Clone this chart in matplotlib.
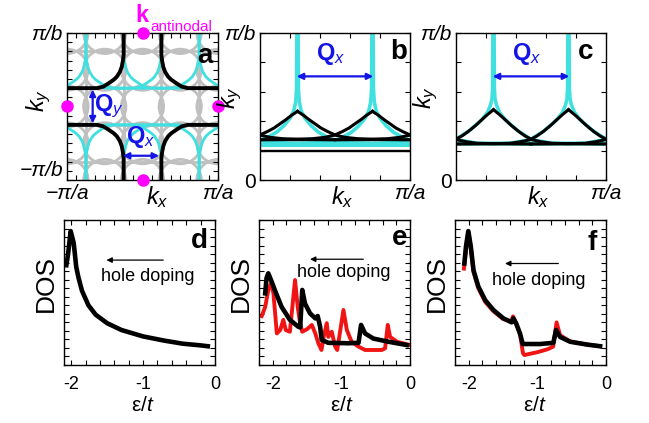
import matplotlib
matplotlib.use("Agg")
import matplotlib.pyplot as plt
import numpy as np
from matplotlib.patches import Circle
from matplotlib.ticker import MultipleLocator

plt.rcParams["font.family"] = ["Liberation Sans", "DejaVu Sans"]
plt.rcParams["mathtext.fontset"] = "custom"
plt.rcParams["mathtext.rm"] = "Liberation Sans"
plt.rcParams["mathtext.it"] = "Liberation Sans:italic"
plt.rcParams["mathtext.bf"] = "Liberation Sans:bold"
plt.rcParams["axes.unicode_minus"] = False

cyan = "#40e0e0"
gray = "#c0c0c0"
magenta = "#ff00ff"
blue = "#1414e6"
red = "#f01414"

# panel a, units of pi/a and pi/b: upper-left branch of the black contour
fs_x = np.array([-1.0, -0.6, -0.52, -0.45, -0.38, -0.34, -0.3, -0.275, -0.26, -0.25, -0.25])
fs_y = np.array([0.25, 0.25, 0.27, 0.315, 0.365, 0.405, 0.47, 0.54, 0.62, 0.7, 1.0])
cyan_shifts = [-1.0, -0.5, 0.5, 1.0]       # copies shifted by multiples of Qx
grid_pos = [-0.75, -0.25, 0.25, 0.75]
circle_pos = [-1.0, -0.5, 0.0, 0.5, 1.0]
circle_r = 0.28
dot_x = [0, 0, -1, 1]
dot_y = [1, -1, 0, 0]

# panels b, c: contour height vs distance from each cusp
cusp_x = [-0.25, 0.25, 0.75, 1.25]
b_black_d = np.array([0, 0.04, 0.078, 0.12, 0.156, 0.2, 0.256, 0.32, 0.4, 0.5, 0.75])
b_black_y = np.array([0.467, 0.44, 0.41, 0.38, 0.354, 0.33, 0.304, 0.29, 0.281, 0.277, 0.274])
b_cyan_d = np.array([0.004, 0.006, 0.012, 0.025, 0.05, 0.09, 0.14, 0.2, 0.25, 0.35, 0.5, 0.75])
b_cyan_y = np.array([1.0, 0.62, 0.53, 0.47, 0.42, 0.37, 0.325, 0.29, 0.27, 0.255, 0.248, 0.245])
b_black_h = [0.274, 0.197]
b_cyan_h = [0.238]

c_black_d = np.array([0, 0.04, 0.078, 0.12, 0.167, 0.21, 0.256, 0.32, 0.39, 0.5, 0.75])
c_black_y = np.array([0.478, 0.445, 0.41, 0.37, 0.331, 0.3, 0.274, 0.26, 0.25, 0.247, 0.245])
c_cyan_d = np.array([0.004, 0.006, 0.01, 0.02, 0.04, 0.078, 0.167, 0.256, 0.39, 0.75])
c_cyan_y = np.array([1.0, 0.62, 0.55, 0.51, 0.46, 0.41, 0.331, 0.274, 0.25, 0.245])
c_black_h = [0.245]

# DOS curves (arb. units)
d_e = [-2.067, -2.045, -2.007, -1.965, -1.93, -1.90, -1.85, -1.76, -1.66, -1.5, -1.3, -1.0, -0.7, -0.45, -0.2, -0.10]
d_dos = [11.7, 12.9, 15.7, 14.3, 11.5, 10.3, 8.7, 7.0, 5.9, 4.9, 4.1, 3.35, 2.85, 2.5, 2.3, 2.2]

e_black_e = [-2.11, -2.09, -2.065, -2.015, -1.97, -1.87, -1.75, -1.63, -1.60, -1.57, -1.53, -1.457, -1.38,
             -1.345, -1.31, -1.286, -1.19, -0.90, -0.75, -0.713, -0.655, -0.534, -0.315, -0.047]
e_black_dos = [8.4, 10.2, 10.75, 9.77, 8.8, 6.8, 5.3, 4.5, 4.4, 8.8, 7.2, 6.06, 5.47,
               5.74, 4.5, 2.93, 2.6, 2.55, 2.6, 4.7, 3.7, 3.1, 2.73, 2.34]
e_red_e = [-2.16, -2.11, -2.064, -2.025, -1.99, -1.94, -1.89, -1.846, -1.81, -1.75, -1.714, -1.675, -1.636,
           -1.60, -1.57, -1.50, -1.43, -1.38, -1.335, -1.29, -1.257, -1.213, -1.19, -1.14, -1.09, -1.06,
           -0.97, -0.92, -0.85, -0.75, -0.655, -0.41, -0.363, -0.324, -0.29, -0.19, 0.0]
e_red_dos = [5.74, 6.8, 8.8, 9.57, 8.4, 3.7, 4.1, 5.3, 4.1, 3.9, 6.8, 9.96, 6.8,
             4.9, 3.9, 4.2, 4.7, 3.7, 2.54, 1.76, 3.3, 4.9, 3.3, 3.9, 2.15, 1.76,
             6.45, 4.1, 2.73, 2.15, 1.76, 1.76, 1.95, 4.7, 3.3, 2.73, 2.34]

f_black_e = [-2.064, -2.04, -2.006, -1.97, -1.93, -1.86, -1.76, -1.64, -1.496, -1.374, -1.35, -1.31, -1.253,
             -1.213, -0.96, -0.767, -0.728, -0.67, -0.524, -0.28, -0.086]
f_black_dos = [11.9, 13.9, 15.7, 13.9, 11.1, 9.2, 7.6, 6.45, 5.47, 5.0, 5.47, 4.9, 3.7,
               2.46, 2.46, 2.6, 4.1, 3.3, 2.73, 2.4, 2.2]
f_red_e = [-2.07, -2.04, -2.006, -1.97, -1.93, -1.86, -1.76, -1.64, -1.50, -1.38, -1.355, -1.31, -1.25,
           -1.21, -1.19, -1.0, -0.85, -0.77, -0.72, -0.67, -0.52, -0.28, -0.09]
f_red_dos = [11.3, 13.5, 15.6, 13.7, 10.9, 9.0, 7.4, 6.3, 5.4, 5.1, 5.7, 4.9, 3.5,
             1.4, 1.17, 1.5, 1.85, 2.15, 5.0, 3.5, 2.75, 2.4, 2.2]

W, H = 649, 423
fig = plt.figure(figsize=(W / 100, H / 100), dpi=100)


def box(left, top, w, h):
    return fig.add_axes([left / W, 1 - (top + h) / H, w / W, h / H])


def style(ax, pad=3, size=12):
    ax.tick_params(which="both", direction="in", top=True, right=True,
                   length=3.5, width=0.8, labelsize=size, pad=pad)
    for s in ax.spines.values():
        s.set_linewidth(1.0)


axa = box(67, 33, 151, 147)
axb = box(260, 33, 150, 147)
axc = box(456, 33, 150, 147)
axd = box(64, 220, 151, 145)
axe = box(259, 220, 151, 145)
axf = box(455, 220, 151, 145)

# ---------------- panel a
for p in grid_pos:
    axa.axvline(p, color=gray, lw=2, zorder=1)
    axa.axhline(p, color=gray, lw=2, zorder=1)
for cx in circle_pos:
    for cy in circle_pos:
        axa.add_patch(Circle((cx, cy), circle_r, fill=False, ec=gray, lw=2, zorder=1))
for sx in (1, -1):
    for sy in (1, -1):
        for sh in cyan_shifts:
            axa.plot(sx * fs_x + sh, sy * fs_y, color=cyan, lw=2, zorder=2)
for sx in (1, -1):
    for sy in (1, -1):
        axa.plot(sx * fs_x, sy * fs_y, color="black", lw=2.8, zorder=3,
                 solid_capstyle="butt")
axa.plot(dot_x, dot_y, "o", color=magenta, ms=8, clip_on=False, zorder=10)

arr = dict(arrowstyle="<|-|>", color=blue, lw=1.6, mutation_scale=9, shrinkA=0, shrinkB=0)
axa.annotate("", xy=(-0.66, -0.23), xytext=(-0.66, 0.23), arrowprops=arr, zorder=5)
axa.annotate("", xy=(-0.26, -0.67), xytext=(0.22, -0.67), arrowprops=arr, zorder=5)
axa.text(-0.45, 0.0, r"$\mathbf{Q}_{\mathit{y}}$", color=blue, fontsize=17, ha="center", va="center", zorder=6)
axa.text(-0.02, -0.42, r"$\mathbf{Q}_{\mathit{x}}$", color=blue, fontsize=17, ha="center", va="center", zorder=6)

axa.set_xlim(-1, 1)
axa.set_ylim(-1, 1)
style(axa, size=15)
axa.set_xticks([-1, 1])
axa.set_xticklabels(["\u2212\u03c0/a", "\u03c0/a"], fontstyle="italic")
axa.set_yticks([-1, 1])
axa.set_yticklabels(["\u2212\u03c0/b", "\u03c0/b"], fontstyle="italic")
axa.get_yticklabels()[0].set_verticalalignment("bottom")
axa.xaxis.set_minor_locator(MultipleLocator(0.125))
axa.yaxis.set_minor_locator(MultipleLocator(0.125))
axa.text(0.6, -0.03, "$k_x$", transform=axa.transAxes, fontsize=17, ha="center", va="top")
axa.text(-0.19, 0.54, "$k_y$", transform=axa.transAxes, fontsize=17, ha="center", va="center", rotation=90)
axa.text(0.965, 0.796, "a", transform=axa.transAxes, fontsize=20, fontweight="bold", ha="right", va="baseline")
fig.text(142 / W, 1 - 15 / H, "k", color=magenta, fontsize=17, fontweight="bold", ha="center", va="center")
fig.text(150 / W, 1 - 27 / H, "antinodal", color=magenta, fontsize=11, ha="left", va="center")

# ---------------- panels b and c


def cusp_panel(ax, black_d, black_y, cyan_d, cyan_y, black_h, cyan_h, letter, lx):
    for y in cyan_h:
        ax.axhline(y, color=cyan, lw=2.2, zorder=2)
    for cx in cusp_x:
        for s in (1, -1):
            ax.plot(cx + s * cyan_d, cyan_y, color=cyan, lw=2.6, zorder=2)
    for y in black_h:
        ax.axhline(y, color="black", lw=1.7, zorder=3)
    for cx in cusp_x:
        for s in (1, -1):
            ax.plot(cx + s * black_d, black_y, color="black", lw=2.2, zorder=3)
    ax.annotate("", xy=(0.245, 0.705), xytext=(0.755, 0.705), arrowprops=arr, zorder=5)
    ax.text(0.47, 0.86, r"$\mathbf{Q}_{\mathit{x}}$", color=blue, fontsize=17, ha="center", va="center")
    ax.set_xlim(0, 1)
    ax.set_ylim(0, 1)
    style(ax, size=15)
    ax.set_xticks([1])
    ax.set_xticklabels(["\u03c0/a"], fontstyle="italic")
    ax.set_yticks([0, 1])
    ax.set_yticklabels(["0", "\u03c0/b"])
    ax.get_yticklabels()[1].set_fontstyle("italic")
    ax.xaxis.set_minor_locator(MultipleLocator(0.2))
    ax.yaxis.set_minor_locator(MultipleLocator(0.2))
    ax.text(0.55, -0.03, "$k_x$", transform=ax.transAxes, fontsize=17, ha="center", va="top")
    ax.text(-0.2, 0.56, "$k_y$", transform=ax.transAxes, fontsize=17, ha="center", va="center", rotation=90)
    ax.text(lx, 0.82, letter, transform=ax.transAxes, fontsize=20, fontweight="bold", ha="right", va="baseline")


cusp_panel(axb, b_black_d, b_black_y, b_cyan_d, b_cyan_y, b_black_h, b_cyan_h, "b", 0.98)
cusp_panel(axc, c_black_d, c_black_y, c_cyan_d, c_cyan_y, c_black_h, [], "c", 0.915)

# ---------------- DOS panels
harr = dict(arrowstyle="-|>", color="black", lw=0.9, mutation_scale=8, shrinkA=0, shrinkB=0)


def dos_panel(ax, x0, letter, lx, ly, tx, ty, ax0, ax1, ay, lab_x):
    ax.set_xlim(x0, 0)
    ax.set_ylim(0, 17)
    ax.set_xticks([-2, -1, 0])
    ax.xaxis.set_minor_locator(MultipleLocator(0.2))
    ax.yaxis.set_major_locator(MultipleLocator(1))
    style(ax, pad=8, size=13)
    ax.tick_params(labelleft=False)
    ax.set_ylabel("DOS", fontsize=19)
    ax.yaxis.set_label_coords(-0.04, 0.56)
    ax.text(lab_x, -0.28, "\u03b5/$t$", transform=ax.transAxes, fontsize=15, ha="center", va="center")
    ax.text(lx, ly, letter, transform=ax.transAxes, fontsize=20, fontweight="bold", ha="right", va="baseline")
    ax.text(tx, ty, "hole doping", fontsize=13, ha="left", va="center")
    ax.annotate("", xy=(ax1, ay), xytext=(ax0, ay), arrowprops=harr)


axd.plot(d_e, d_dos, color="black", lw=3.3, solid_joinstyle="round")
dos_panel(axd, -2.1, "d", 0.95, 0.805, -1.59, 10.35, -0.72, -1.51, 12.3, 0.52)

axe.plot(e_red_e, e_red_dos, color=red, lw=2.8, solid_joinstyle="round")
axe.plot(e_black_e, e_black_dos, color="black", lw=3.3, solid_joinstyle="round")
dos_panel(axe, -2.2, "e", 0.985, 0.828, -1.646, 10.8, -0.68, -1.457, 12.4, 0.55)

axf.plot(f_red_e, f_red_dos, color=red, lw=2.8, solid_joinstyle="round")
axf.plot(f_black_e, f_black_dos, color="black", lw=3.3, solid_joinstyle="round")
dos_panel(axf, -2.2, "f", 0.94, 0.793, -1.665, 9.96, -0.694, -1.471, 11.9, 0.53)

fig.savefig("out.png", dpi=100)
